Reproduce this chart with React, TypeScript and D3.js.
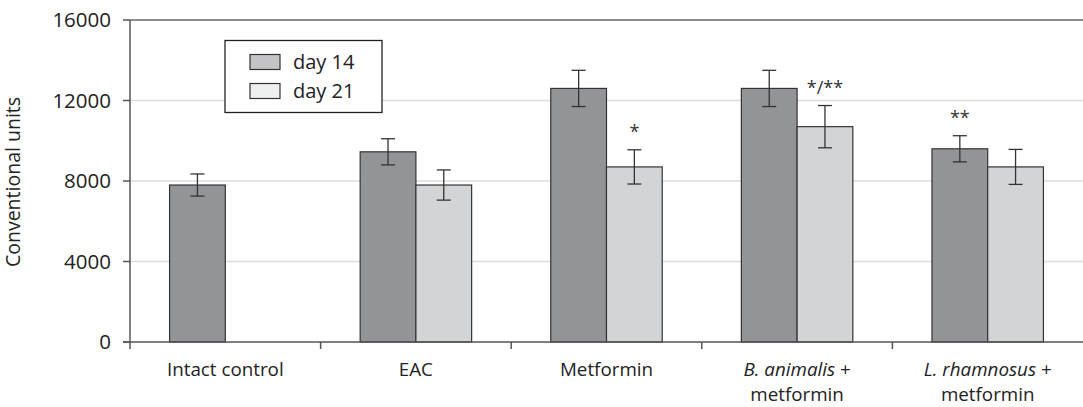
import * as d3 from 'd3'

const categories = ['Intact control', 'EAC', 'Metformin', 'B. animalis + metformin', 'L. rhamnosus + metformin']
const series = ['day 14', 'day 21']
const day14 = [7800, 9450, 12600, 12600, 9600]
const day14Err = [550, 650, 900, 900, 650]
const day21: (number | null)[] = [null, 7800, 8700, 10700, 8700]
const day21Err = [0, 750, 850, 1050, 870]
const marks14 = ['', '', '', '', '**']
const marks21 = ['', '', '*', '*/**', '']
const yTicks = [0, 4000, 8000, 12000, 16000]

const W = 1083
const H = 407
const margin = { top: 20, right: 0, bottom: 65, left: 130 }
const FONT = '"Open Sans", sans-serif'
const barColors = ['#939498', '#d3d4d6']
const legendColors = ['#c4c4c6', '#eef0f0']

function Label({ name, x, y }: { name: string; x: number; y: number }) {
  const m = name.match(/^(\S+ \S+) \+ (.*)$/)
  if (!m) {
    return <text x={x} y={y} textAnchor="middle">{name}</text>
  }
  return (
    <g>
      <text x={x} y={y} textAnchor="middle">
        <tspan fontStyle="italic">{m[1]}</tspan>
        <tspan> +</tspan>
      </text>
      <text x={x} y={y + 25.6} textAnchor="middle">{m[2]}</text>
    </g>
  )
}

export default function App() {
  const innerW = W - margin.left - margin.right
  const innerH = H - margin.top - margin.bottom

  const x0 = d3.scaleBand().domain(categories).range([0, innerW]).paddingInner(0).paddingOuter(0)
  const x1 = d3.scaleBand().domain(series).range([0, x0.bandwidth()]).paddingInner(0).paddingOuter(0.71)
  const y = d3.scaleLinear().domain([0, 16000]).range([innerH, 0])

  const bars: { cat: string; s: string; v: number; e: number; mark: string; i: number }[] = []
  categories.forEach((c, i) => {
    bars.push({ cat: c, s: series[0], v: day14[i], e: day14Err[i], mark: marks14[i], i: 0 })
    const v21 = day21[i]
    if (v21 != null) bars.push({ cat: c, s: series[1], v: v21, e: day21Err[i], mark: marks21[i], i: 1 })
  })

  return (
    <svg width={W} height={H} style={{ position: 'absolute', left: 0, top: 0, fontFamily: FONT }}>
      <rect width={W} height={H} fill="#fff" />
      <g transform={`translate(${margin.left},${margin.top})`}>
        {/* grid */}
        {yTicks.filter(t => t > 0 && t < 16000).map(t => (
          <line key={t} x1={0} x2={innerW} y1={y(t)} y2={y(t)} stroke="#dcdcdc" strokeWidth={1.5} />
        ))}
        <line x1={0} x2={innerW} y1={y(16000)} y2={y(16000)} stroke="#6a6a6a" strokeWidth={1.5} />

        {/* bars */}
        {bars.map(b => {
          const bx = (x0(b.cat) ?? 0) + (x1(b.s) ?? 0)
          const bw = x1.bandwidth()
          const cx = bx + bw / 2
          return (
            <g key={b.cat + b.s}>
              <rect x={bx} y={y(b.v)} width={bw} height={innerH - y(b.v)} fill={barColors[b.i]} stroke="#333" strokeWidth={1.2} />
              <line x1={cx} x2={cx} y1={y(b.v + b.e)} y2={y(b.v - b.e)} stroke="#333" strokeWidth={1.3} />
              <line x1={cx - 7} x2={cx + 7} y1={y(b.v + b.e)} y2={y(b.v + b.e)} stroke="#333" strokeWidth={1.3} />
              <line x1={cx - 7} x2={cx + 7} y1={y(b.v - b.e)} y2={y(b.v - b.e)} stroke="#333" strokeWidth={1.3} />
              {b.mark && (
                <text x={cx} y={y(b.v + b.e) - 12} textAnchor="middle" fontSize={18} fill="#333">{b.mark}</text>
              )}
            </g>
          )
        })}

        {/* axes */}
        <line x1={0} x2={0} y1={0} y2={innerH} stroke="#555" strokeWidth={1.5} />
        <line x1={-7} x2={innerW} y1={innerH} y2={innerH} stroke="#555" strokeWidth={1.5} />
        {yTicks.map(t => (
          <g key={t}>
            <line x1={-7} x2={0} y1={y(t)} y2={y(t)} stroke="#555" strokeWidth={1.5} />
            <text x={-19} y={y(t)} dy="0.36em" textAnchor="end" fontSize={20.5} fill="#222">{t}</text>
          </g>
        ))}
        {categories.map(c => {
          const tx = x0(c) ?? 0
          return <line key={c} x1={tx} x2={tx} y1={innerH} y2={innerH + 7} stroke="#555" strokeWidth={1.5} />
        })}
        <g fontSize={18.8} fill="#222">
          {categories.map(c => (
            <Label key={c} name={c} x={(x0(c) ?? 0) + x0.bandwidth() / 2} y={innerH + 33.5} />
          ))}
        </g>
        <text transform={`translate(${-110},${innerH / 2 + 1}) rotate(-90)`} textAnchor="middle" fontSize={19.5} fill="#222">Conventional units</text>

        {/* legend */}
        <g transform="translate(95,20.5)">
          <rect x={0} y={0} width={157} height={72} fill="#fff" stroke="#222" strokeWidth={1.3} />
          {series.map((s, i) => (
            <g key={s} transform={`translate(25,${14 + i * 29})`}>
              <rect x={0} y={0} width={30} height={15} fill={legendColors[i]} stroke="#333" strokeWidth={1.2} />
              <text x={43} y={7} dy="0.36em" fontSize={20} fill="#222">{s}</text>
            </g>
          ))}
        </g>
      </g>
    </svg>
  )
}
